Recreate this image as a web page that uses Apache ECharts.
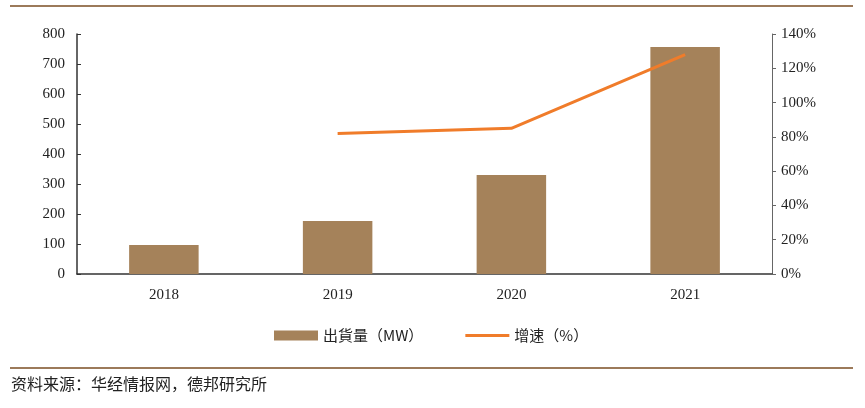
<!DOCTYPE html>
<html><head><meta charset="utf-8">
<script src="https://cdn.jsdelivr.net/npm/echarts@6/dist/echarts.min.js"></script>
<style>html,body{margin:0;padding:0;background:#fff}#c{width:865px;height:408px}</style>
</head><body><div id="c"></div>
<script>
const categories = ['2018', '2019', '2020', '2021'];
const shipment = [97, 177, 330, 757];
const growth = [null, 82, 85, 128];
const leftTicks = [0, 800, 100];
const rightTicks = [0, 140, 20];

const chart = echarts.init(document.getElementById('c'));
const serif = '"Liberation Serif", "Times New Roman", serif';
const cjk = '"Noto Sans CJK SC", sans-serif';
chart.setOption({
  animation: false,
  grid: { left: 77, right: 93, top: 34, bottom: 134, containLabel: false },
  legend: {
    bottom: 60, left: 269, itemGap: 42, itemWidth: 44, itemHeight: 10,
    textStyle: { fontFamily: cjk, fontSize: 15, color: '#222' },
    data: [
      { name: '出貨量（MW）', icon: 'rect' },
      { name: '增速（%）', icon: 'path://M0,4L44,4L44,7L0,7Z' }
    ]
  },
  graphic: [
    { type: 'rect', shape: { x: 10, y: 5, width: 843, height: 2 }, style: { fill: '#9c7a5a' } },
    { type: 'rect', shape: { x: 10, y: 367, width: 843, height: 2 }, style: { fill: '#9c7a5a' } },
    { type: 'text', left: 11, top: 376, style: { text: '资料来源：华经情报网，德邦研究所', font: '16px ' + cjk, fill: '#222' } }
  ],
  xAxis: {
    type: 'category', data: categories,
    axisLine: { lineStyle: { color: '#333', width: 1.5 } },
    axisTick: { inside: true, length: 5, lineStyle: { color: '#333' } },
    axisLabel: { fontFamily: serif, fontSize: 15, color: '#222', margin: 14 }
  },
  yAxis: [
    {
      type: 'value', min: leftTicks[0], max: leftTicks[1], interval: leftTicks[2],
      axisLine: { show: true, lineStyle: { color: '#333', width: 1.5 } },
      axisTick: { show: true, inside: true, length: 4, lineStyle: { color: '#333' } },
      splitLine: { show: false },
      axisLabel: { fontFamily: serif, fontSize: 15, color: '#222', margin: 12 }
    },
    {
      type: 'value', min: rightTicks[0], max: rightTicks[1], interval: rightTicks[2],
      axisLine: { show: true, lineStyle: { color: '#666', width: 1 } },
      axisTick: { show: true, inside: false, length: 4, lineStyle: { color: '#666' } },
      splitLine: { show: false },
      axisLabel: { fontFamily: serif, fontSize: 15, color: '#222', margin: 9, formatter: '{value}%' }
    }
  ],
  series: [
    {
      name: '出貨量（MW）', type: 'bar', data: shipment, barWidth: '40%',
      itemStyle: { color: '#a5825a' }
    },
    {
      name: '增速（%）', type: 'line', yAxisIndex: 1, data: growth,
      symbol: 'none', lineStyle: { color: '#f07c2a', width: 3 },
      itemStyle: { color: '#f07c2a' }
    }
  ]
});
</script></body></html>
